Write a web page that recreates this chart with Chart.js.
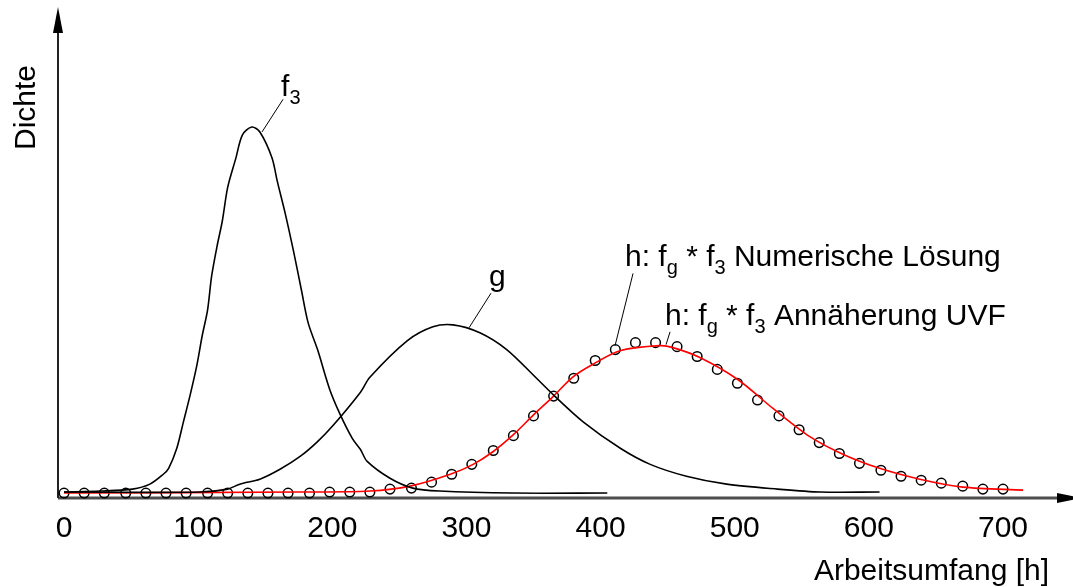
<!DOCTYPE html>
<html>
<head>
<meta charset="utf-8">
<title>Dichte / Arbeitsumfang</title>
<script src="https://cdn.jsdelivr.net/npm/chart.js@4.4.1/dist/chart.umd.min.js"></script>
<style>
  html, body { margin: 0; padding: 0; background: #fff; }
  #wrap { width: 1073px; height: 587px; position: relative; }
</style>
</head>
<body>
<div id="wrap"><canvas id="chart"></canvas></div>
<script>
// x-Achse: Arbeitsumfang [h]; y: Dichte (relative Einheiten)
var X_TICKS = [0, 100, 200, 300, 400, 500, 600, 700];

// f3
var F3_X = [0, 27, 51, 64, 74, 78, 84, 89, 94, 99, 103, 107, 110, 114, 118, 122, 128, 133, 140, 146, 155, 159, 165, 171, 177, 182, 189, 198, 206, 215, 221, 226, 243, 260, 280, 335, 405];
var F3_Y = [1, 2, 4, 9, 19, 25, 45, 72, 99, 129, 159, 185, 219, 249, 275, 309, 338, 362, 370, 365, 339, 315, 282, 245, 205, 172, 145, 105, 79, 55, 44, 32, 15, 5, 2, 0, 0];

// g
var G_X = [0, 101, 122, 131, 146, 161, 176, 189, 201, 221, 228, 256, 275, 290, 310, 330, 353, 365, 387, 415, 437, 464, 494, 532, 564, 608];
var G_Y = [1, 1, 4, 9, 14, 24, 37, 52, 69, 102, 117, 154, 168, 170, 162, 145, 115, 99, 72, 45, 29, 17, 9, 4, 1, 1];

// h: fg * f3 Annäherung UVF (rote Linie)
var UVF_X = [0, 176, 228, 258, 288, 305, 320, 335, 350, 365, 379, 394, 415, 444, 454, 474, 502, 529, 556, 581, 608, 638, 670, 715];
var UVF_Y = [0, 1, 2, 7, 19, 29, 42, 59, 79, 98, 117, 130, 144, 149, 147, 137, 115, 85, 57, 39, 25, 14, 6, 3];

// h: fg * f3 Numerische Lösung (Kreise)
var NUM_X = [0, 15, 30, 46, 61, 76, 91, 107, 122, 137, 152, 167, 183, 198, 213, 228, 243, 259, 274, 289, 304, 320, 335, 350, 365, 380, 396, 411, 426, 441, 457, 472, 487, 502, 517, 533, 548, 563, 578, 593, 609, 624, 639, 654, 670, 685, 700];
var NUM_Y = [0, 0, 0, 0, 0, 0, 0, 0, 0, 0, 0, 0, 0, 1, 1, 1, 4, 5, 11, 19, 29, 43, 58, 78, 98, 116, 134, 145, 152, 152, 148, 138, 125, 111, 94, 78, 64, 51, 40, 30, 23, 17, 13, 10, 7, 4, 4];

var FONT = "'Liberation Sans', Arial, sans-serif";

function toPoints(xs, ys) {
  var out = [];
  for (var i = 0; i < xs.length; i++) out.push({ x: xs[i], y: ys[i] });
  return out;
}

// Beschriftungen: Ankerpunkt in Datenkoordinaten, Teile [text, tiefgestellt]
var LABELS = [
  { x: 161.8, y: 401, parts: [["f", false], ["3", true]], line: [163.3, 398, 147.6, 365] },
  { x: 316.8, y: 209, parts: [["g", false]], line: [318.3, 202, 301.9, 167] },
  { x: 418.2, y: 230, parts: [["h: f", false], ["g", true], [" * f", false], ["3", true], [" Numerische Lösung", false]], line: [424.2, 222, 410.8, 149] },
  { x: 448.0, y: 170, parts: [["h: f", false], ["g", true], [" * f", false], ["3", true], [" Annäherung UVF", false]], line: [451.8, 163, 448.8, 150] }
];

var axesPlugin = {
  id: "arrowAxes",
  beforeDatasetsDraw: function (chart) {
    var ctx = chart.ctx, a = chart.chartArea;
    ctx.save();
    // x-Achse mit Pfeil
    ctx.strokeStyle = "#4d4d4d";
    ctx.lineWidth = 3;
    ctx.beginPath();
    ctx.moveTo(a.left, a.bottom);
    ctx.lineTo(1060, a.bottom);
    ctx.stroke();
    ctx.fillStyle = "#000";
    ctx.beginPath();
    ctx.moveTo(1057, a.bottom - 5);
    ctx.lineTo(1082, a.bottom);
    ctx.lineTo(1057, a.bottom + 5);
    ctx.closePath();
    ctx.fill();
    // y-Achse mit Pfeil
    ctx.strokeStyle = "#222";
    ctx.lineWidth = 2;
    ctx.beginPath();
    ctx.moveTo(a.left, a.bottom);
    ctx.lineTo(a.left, 30);
    ctx.stroke();
    ctx.beginPath();
    ctx.moveTo(a.left - 5, 33);
    ctx.lineTo(a.left, 7);
    ctx.lineTo(a.left + 5, 33);
    ctx.closePath();
    ctx.fill();
    // y-Titel
    ctx.translate(35, 150);
    ctx.rotate(-Math.PI / 2);
    ctx.font = "30px " + FONT;
    ctx.textBaseline = "alphabetic";
    ctx.textAlign = "left";
    ctx.fillText("Dichte", 0, 0);
    ctx.restore();
  },
  afterDatasetsDraw: function (chart) {
    var ctx = chart.ctx, xs = chart.scales.x, ys = chart.scales.y;
    ctx.save();
    ctx.fillStyle = "#000";
    ctx.strokeStyle = "#000";
    ctx.lineWidth = 1;
    ctx.textBaseline = "alphabetic";
    ctx.textAlign = "left";
    LABELS.forEach(function (lab) {
      var l = lab.line;
      ctx.beginPath();
      ctx.moveTo(xs.getPixelForValue(l[0]), ys.getPixelForValue(l[1]));
      ctx.lineTo(xs.getPixelForValue(l[2]), ys.getPixelForValue(l[3]));
      ctx.stroke();
      var px = xs.getPixelForValue(lab.x);
      var py = ys.getPixelForValue(lab.y);
      lab.parts.forEach(function (p) {
        ctx.font = (p[1] ? "20px " : "30px ") + FONT;
        ctx.fillText(p[0], px, py + (p[1] ? 8 : 0));
        px += ctx.measureText(p[0]).width;
      });
    });
    ctx.restore();
  }
};

var lineStyle = {
  showLine: true,
  pointRadius: 0,
  borderWidth: 1.6,
  tension: 0.3,
  fill: false
};

new Chart(document.getElementById("chart"), {
  type: "scatter",
  data: {
    datasets: [
      Object.assign({ label: "f3", data: toPoints(F3_X, F3_Y), borderColor: "#000" }, lineStyle),
      Object.assign({ label: "g", data: toPoints(G_X, G_Y), borderColor: "#000" }, lineStyle),
      Object.assign({ label: "h: fg * f3 Annäherung UVF", data: toPoints(UVF_X, UVF_Y), borderColor: "#ff0000" }, lineStyle),
      {
        label: "h: fg * f3 Numerische Lösung",
        data: toPoints(NUM_X, NUM_Y),
        showLine: false,
        pointStyle: "circle",
        pointRadius: 4.8,
        pointBorderWidth: 1.5,
        pointBorderColor: "#000",
        pointBackgroundColor: "rgba(0,0,0,0)",
        clip: false
      }
    ]
  },
  options: {
    responsive: true,
    maintainAspectRatio: false,
    animation: false,
    layout: { padding: { left: 58, right: 24, top: 0, bottom: 0 } },
    plugins: {
      legend: { display: false },
      tooltip: { enabled: false }
    },
    scales: {
      x: {
        type: "linear",
        min: -4.5,
        max: 734.3,
        afterBuildTicks: function (scale) {
          scale.ticks = X_TICKS.map(function (v) { return { value: v }; });
        },
        grid: { display: false, drawTicks: false },
        border: { display: false },
        ticks: {
          color: "#000",
          padding: 16,
          maxRotation: 0,
          autoSkip: false,
          font: { family: FONT, size: 30, lineHeight: 1.0 }
        },
        title: {
          display: true,
          text: "Arbeitsumfang [h]",
          align: "end",
          color: "#000",
          padding: { top: 0, bottom: 3 },
          font: { family: FONT, size: 30, lineHeight: 0.8 }
        }
      },
      y: {
        type: "linear",
        display: false,
        min: -5,
        max: 492
      }
    }
  },
  plugins: [axesPlugin]
});
</script>
</body>
</html>
